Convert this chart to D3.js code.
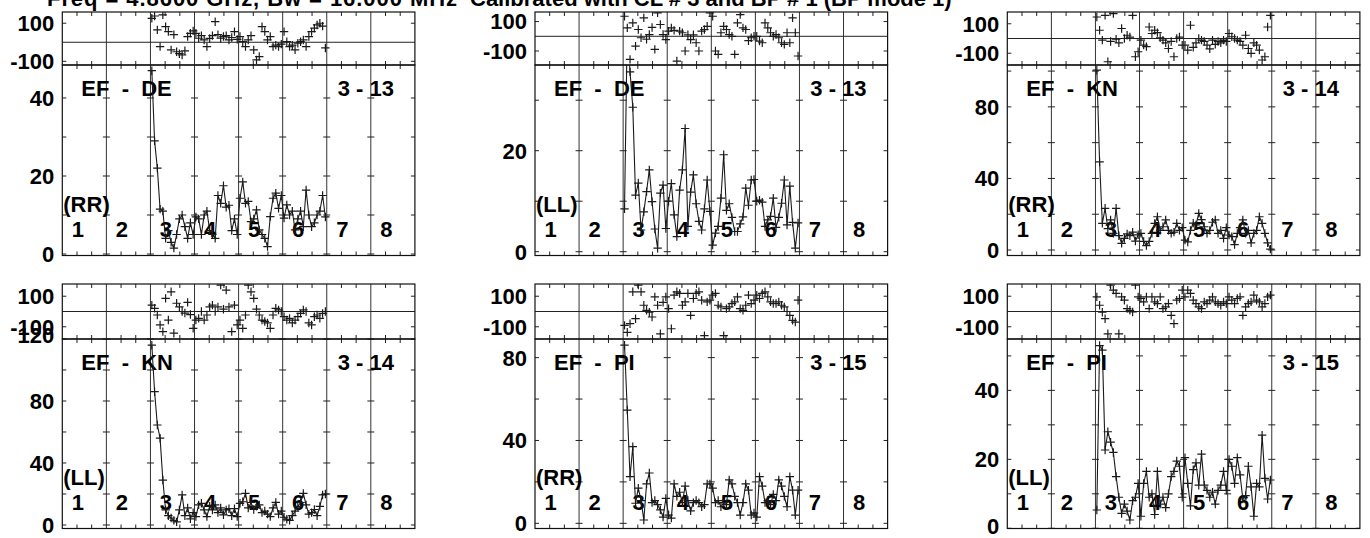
<!DOCTYPE html>
<html><head><meta charset="utf-8">
<script src="https://cdn.jsdelivr.net/npm/d3@7"></script>
<style>
body{margin:0;background:#fff;}
svg text{font-family:"Liberation Sans",Arial,Helvetica,sans-serif;font-weight:bold;font-size:22px;fill:#000;white-space:pre;}
</style></head><body><svg id="c" width="1370" height="538"></svg>
<script>
// ---------- data ----------
const ifLabels = ["1","2","3","4","5","6","7","8"];
const nChan = 16;            // channels per IF
const firstIF = 3;           // data present in IFs 3..6
const titleLeft = "Freq = 4.8600 GHz, Bw = 16.000 MHz";
const titleRight = "Calibrated with CL # 3 and BP # 1 (BP mode 1)";
const baselines = ["EF  -  DE","EF  -  DE","EF  -  KN","EF  -  KN","EF  -  PI","EF  -  PI"];
const pairs = ["3 - 13","3 - 13","3 - 14","3 - 14","3 - 15","3 - 15"];
const pols = ["(RR)","(LL)","(RR)","(LL)","(RR)","(LL)"];
const phaseTickLabels = [100, -100];

const ampA = [47,29,22,11.5,11,4,6,3,1.5,5,9,10,7,4,8,5,
 9.5,9,5,10,11,6,5,4,15,13,17.5,12,12.5,6,9,5,
 14.3,18.5,13,13.5,8.3,9,11.3,6.2,5,4,1.9,9.6,14.3,15.6,11.7,15,
 9.2,12.6,10,11,6.2,9,11,7,16.4,10,7,8,10,11,15,9.5];
const phA = [126,138,65,-23,144,82,56,-40,40,-50,-60,-67,-45,30,47,60,
 47,21,35,12,-23,20,35,108,40,21,30,35,12,25,56,15,
 30,3,-23,12,35,-40,-93,-75,82,56,12,30,-23,-15,-23,-10,
 56,3,-23,-15,-40,-5,3,12,-23,30,56,74,91,100,85,-30];
const ampB = [8.5,45,35.6,28.6,11.2,13.6,4.3,7.9,11.9,16.2,9.9,4.5,0.7,11.6,13.2,4.6,
 10,13.5,7.3,3,12.2,16.2,24.4,5,11.8,15.2,9.5,6,4.3,8.5,14.2,8,
 1.3,3.7,5,10.6,19.2,8.2,9.5,6.8,4,4,5.5,6.9,12.6,9.2,14.2,14.3,
 10,10.2,9.8,5,6.3,7,10.6,4.8,6.8,9.6,14.2,5.3,13,5.8,0.7,5.7];
const phB = [136,57,-157,91,-67,46,-10,125,-20,12,60,-89,159,80,12,-22,
 35,57,40,-168,35,24,-100,10,-22,10,-44,-100,35,46,68,159,
 136,-100,-123,24,68,46,12,0,-123,91,147,57,46,-30,-10,0,
 0,-33,-44,91,57,24,0,12,-10,-44,-55,24,-44,125,24,-134];
const ampC = [100.5,49.3,14.9,23.3,12,16.8,9.3,23.3,8,3.7,6.5,9,8,10,5,8.5,
 9.3,4.8,2.5,4.8,9.3,14.9,18.6,11,13,16.8,11,9.3,10,14.9,11,12.5,
 5.5,4.5,11,15,14,20.5,17,13,9.3,11,15.5,16.8,9.3,11,6.5,12.5,
 8.4,7.5,3,9.3,12.5,16.8,9.3,11,4,9.3,11,18.6,14.9,9.3,4,0.5];
const phC = [146,56,-11,157,-158,-20,169,-5,-30,68,0,22,10,157,-124,-90,
 -11,-45,-55,78,34,56,40,5,-11,-30,-68,-20,-124,0,10,-45,
 -45,-79,90,-60,-30,0,-11,-20,-45,-70,-11,-40,-20,-30,-11,-20,
 34,12,0,-11,-20,-45,22,-68,-101,-30,-45,-79,-146,-124,78,157];
const ampD = [116,86,64.5,56,29,9.7,6,4.5,3,2,9.7,19.4,6,11,4,8,
 5.4,13,14,9.7,5.4,12.2,9.7,13,8,11,6.5,9.7,10.5,6,10.5,5.4,
 14,15,20.4,11,14.5,10,12,13,8,9,7,5.4,11,14.6,7,9,
 5,3.7,3,6,9,12,14.5,20.4,13,7,8,10,6,12,19.4,20];
const phD = [42,21,-23,-88,-132,86,-56,129,-142,54,30,0,-10,60,-20,-110,
 -56,-45,0,-56,-23,30,42,0,30,173,15,140,30,-132,42,-88,
 -56,-110,-23,173,129,86,15,-23,-56,-65,-75,-110,-23,21,10,0,
 -34,-56,-45,-75,-56,-34,-12,10,0,-75,-88,-34,-23,-45,-12,0];
const ampE = [86,54.7,22.5,37,9.7,17,11,1.6,19,24.3,10,11,9,6.5,3,12,
 4,2.5,19,13,15,10,18,11,6,10,11,10,8,9,19,19,
 17,10,11,8,10,9,21,19,13,10,4,10,19,16,4,5,
 3,22.5,18,10,11,9,14,11,21,18,13,8,22.5,16,4,16];
const phE = [-91,-136,-80,129,-47,173,129,41,8,-5,-36,96,41,-146,60,96,
 19,-113,107,129,118,41,63,118,-25,85,118,129,74,-158,63,74,
 107,118,41,30,-158,19,30,52,63,96,19,8,41,107,52,74,
 107,85,118,129,96,63,52,52,63,41,30,0,-25,-58,-69,74];
const ampF = [5.3,53,51.7,22.7,28,25,22,15,9,4.3,7,5,2.4,8,9,13,
 3.5,13,16.5,9,10,4,16.5,7,9,6,10,15,16.5,19.5,18,9,
 20.5,13,6.5,17,19,12.5,21.5,12.5,11,9,10.5,7,11,12.5,16.5,11,
 20,18,13,20.5,15.5,8.5,9.5,18,12,3.5,13,12,27,14.5,8.5,14];
const phF = [96,41,-5,-47,-146,173,140,118,-146,96,74,19,8,-3,173,96,
 85,63,96,19,96,63,52,96,19,30,52,-25,-80,74,85,140,
 96,140,118,74,52,30,19,63,52,74,96,63,52,41,63,52,
 96,74,52,85,96,-25,30,52,63,107,74,63,30,52,96,107];

const ampSeries = [ampA, ampB, ampC, ampD, ampE, ampF];
const phSeries = [phA, phB, phC, phD, phE, phF];
const ampDomains = [[-0.38,48.46],[-0.75,36.97],[-3.07,103.4],[-2.26,120],[-2.5,89],[-0.06,54.9]];
const ampTicks = [[0,10,20,30,40],[0,10,20,30],[0,20,40,60,80,100],[0,20,40,60,80,100,120],[0,20,40,60,80],[0,10,20,30,40,50]];
const ampTickLabels = [[0,20,40],[0,20],[0,40,80],[0,40,80,120],[0,40,80],[0,20,40]];
const phDomains = [[-119.5,159],[-195,165],[-180,180],[-180,180],[-180,180],[-180,180]];

// ---------- layout ----------
const colLeft = [62.3, 535, 1007.3];
const colWidth = 352.6;
const rowGeom = [{pt:12, mid:65, bot:255.5},{pt:284, mid:339, bot:528.5}];

const svg = d3.select("#c");
svg.append("rect").attr("width",1370).attr("height",538).attr("fill","#fff");

svg.append("text").attr("x",47).attr("y",5.5).attr("textLength",410).attr("lengthAdjust","spacing").text(titleLeft);
svg.append("text").attr("x",470).attr("y",5.5).text(titleRight);

const defs = svg.append("defs");
const cross = (x,y)=>`M${x-4.2},${y}h8.4M${x},${y-4.2}v8.4`;

for (let p=0; p<6; p++){
  const r = Math.floor(p/3), c = p%3;
  const L = colLeft[c], R = L + colWidth;
  const g = rowGeom[r];
  const x = d3.scaleLinear().domain([0, ifLabels.length*nChan]).range([L, R]);
  const yA = d3.scaleLinear().domain(ampDomains[p]).range([g.bot, g.mid]);
  const yP = d3.scaleLinear().domain(phDomains[p]).range([g.mid, g.pt]);
  const G = svg.append("g");

  defs.append("clipPath").attr("id","ca"+p).append("rect").attr("x",L).attr("y",g.mid).attr("width",R-L).attr("height",g.bot-g.mid);
  defs.append("clipPath").attr("id","cp"+p).append("rect").attr("x",L).attr("y",g.pt).attr("width",R-L).attr("height",g.mid-g.pt);

  const bounds = d3.range(1, ifLabels.length).map(k=>x(k*nChan));
  G.selectAll(null).data(bounds).join("line")
    .attr("x1",d=>d).attr("x2",d=>d).attr("y1",g.pt).attr("y2",g.bot)
    .attr("stroke","#333").attr("stroke-width",1);

  const minor = [];
  for (let k=0;k<ifLabels.length;k++) for (let j=1;j<3;j++) minor.push(x(k*nChan + j*nChan/3));
  const edgeTicks = [[g.pt,4],[g.mid,-4],[g.mid,4],[g.bot,-4]];
  edgeTicks.forEach(([yy,len])=>{
    G.selectAll(null).data(minor).join("line")
      .attr("x1",d=>d).attr("x2",d=>d).attr("y1",yy).attr("y2",yy+len)
      .attr("stroke","#222").attr("stroke-width",1);
  });

  ampTicks[p].forEach(v=>{
    const yy = yA(v);
    G.append("line").attr("x1",L).attr("x2",L+4).attr("y1",yy).attr("y2",yy).attr("stroke","#222");
    G.append("line").attr("x1",R-4).attr("x2",R).attr("y1",yy).attr("y2",yy).attr("stroke","#222");
    G.selectAll(null).data(bounds).join("line")
      .attr("x1",d=>d-3.5).attr("x2",d=>d+3.5).attr("y1",yy).attr("y2",yy).attr("stroke","#222");
  });
  phaseTickLabels.forEach(v=>{
    const yy = yP(v);
    G.append("line").attr("x1",L).attr("x2",L+4).attr("y1",yy).attr("y2",yy).attr("stroke","#222");
    G.append("line").attr("x1",R-4).attr("x2",R).attr("y1",yy).attr("y2",yy).attr("stroke","#222");
  });

  G.append("line").attr("x1",L).attr("x2",R).attr("y1",yP(0)).attr("y2",yP(0)).attr("stroke","#222");

  G.append("rect").attr("x",L).attr("y",g.pt).attr("width",R-L).attr("height",g.mid-g.pt)
    .attr("fill","none").attr("stroke","#111").attr("stroke-width",1.2);
  G.append("rect").attr("x",L).attr("y",g.mid).attr("width",R-L).attr("height",g.bot-g.mid)
    .attr("fill","none").attr("stroke","#111").attr("stroke-width",1.2);

  ampTickLabels[p].forEach(v=>{
    let yy = yA(v);
    if (yy - g.mid < 6) yy -= 4;
    yy = Math.min(yy, 526);
    G.append("text").attr("x",L-8).attr("y",yy).attr("dy","0.36em").attr("text-anchor","end").text(v);
  });
  phaseTickLabels.forEach(v=>{
    G.append("text").attr("x",L-8).attr("y",yP(v)).attr("dy","0.36em").attr("text-anchor","end").text(v);
  });

  G.append("text").attr("x",L+19).attr("y",g.mid+31).text(baselines[p]);
  G.append("text").attr("x",R-21).attr("y",g.mid+31).attr("text-anchor","end").text(pairs[p]);
  G.append("text").attr("x",L+1).attr("y",g.bot-44).text(pols[p]);
  G.selectAll(null).data(ifLabels).join("text")
    .attr("x",(d,i)=>x(i*nChan + nChan/2) - 6.5).attr("y",g.bot-19)
    .attr("text-anchor","middle").text(d=>d);

  const pts = ampSeries[p].map((v,i)=>({x:x((firstIF-1)*nChan + i + 0.5), y:yA(v)}));
  const ampG = G.append("g").attr("clip-path",`url(#ca${p})`);
  ampG.append("path").attr("d", d3.line().x(d=>d.x).y(d=>d.y)(pts))
    .attr("fill","none").attr("stroke","#1a1a1a").attr("stroke-width",1.1);
  ampG.append("path").attr("d", pts.map(d=>cross(d.x,d.y)).join(""))
    .attr("fill","none").attr("stroke","#1a1a1a").attr("stroke-width",1.2);

  const ppts = phSeries[p].map((v,i)=>({x:x((firstIF-1)*nChan + i + 0.5), y:yP(v)}));
  G.append("g").attr("clip-path",`url(#cp${p})`).append("path")
    .attr("d", ppts.map(d=>cross(d.x,d.y)).join(""))
    .attr("fill","none").attr("stroke","#1a1a1a").attr("stroke-width",1.2);
}
</script></body></html>
